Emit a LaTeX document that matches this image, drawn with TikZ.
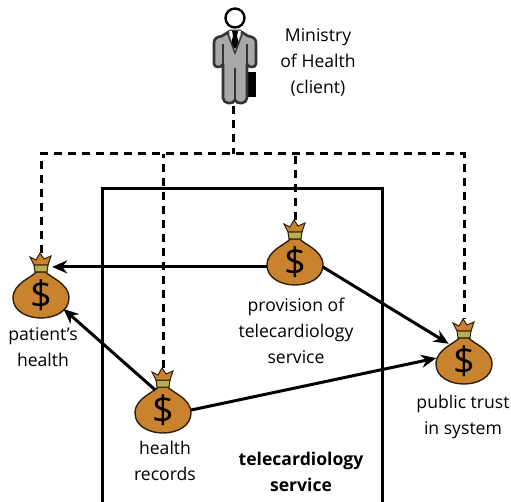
\documentclass[tikz,border=0pt]{standalone}
\usepackage{fontspec}
\setmainfont{Open Sans}
\usetikzlibrary{shapes.geometric,arrows.meta}
\definecolor{bagfill}{HTML}{C9832E}
\definecolor{bagline}{HTML}{2E2008}
\definecolor{bandc}{HTML}{B8B050}
\definecolor{suit}{HTML}{A8A8A8}
\tikzset{
  x=1pt,y=-1pt,
  dashline/.style={line width=3pt,dash pattern=on 8pt off 6pt},
  solidline/.style={line width=3pt},
  arrowline/.style={line width=3pt,-{Stealth[length=15pt,width=13pt]}},
  lbl/.style={align=center,font=\fontsize{17.6}{26}\selectfont,inner sep=0pt},
  bodyanchor/.style={ellipse,minimum width=56pt,minimum height=43pt,inner sep=0pt},
  neckanchor/.style={rectangle,minimum width=22pt,minimum height=14pt,inner sep=0pt},
  bag/.pic={
    \fill[bagfill,draw=bagline,line width=1.4pt]
      (-5,-23) .. controls (-8,-18) and (-28,-12) .. (-28,3)
      .. controls (-28,16) and (-14,23) .. (0,23)
      .. controls (14,23) and (28,16) .. (28,3)
      .. controls (28,-12) and (8,-18) .. (5,-23) -- cycle;
    \fill[bandc,draw=bagline,line width=1pt] (-7,-30) -- (7,-30) -- (6,-23) -- (-6,-23) -- cycle;
    \fill[bagfill,draw=bagline,line width=1pt]
      (-7,-30) -- (-11,-38) -- (-5,-35) -- (-1,-42) -- (3,-36) -- (10,-39) -- (7,-30) -- cycle;
    \node[bodyanchor] (-body) at (0,1) {};
    \node[neckanchor] (-neck) at (0,-27) {};
    \coordinate (-top) at (0,-42);
    \node[inner sep=0pt,font=\fontsize{38}{38}\selectfont] (-sign) at (0,0) {\$};
  },
}
\begin{document}
\begin{tikzpicture}
\useasboundingbox (0,0) rectangle (511,502);
\draw[solidline,miter limit=10] (102,502) -- (102,189) -- (382,189) -- (382,502);
% man
\fill[black] (248,72) rectangle (256,97);
\draw[line width=2.6pt,draw=black!80,fill=suit,line join=round]
  (222,36) .. controls (216,37) and (214,39) .. (214,43)
  -- (214,64) .. controls (214,68) and (222,68) .. (223,64)
  -- (223,98) .. controls (223,104) and (233,105) .. (235,100)
  .. controls (237,105) and (247,104) .. (247,98)
  -- (247,64) .. controls (248,68) and (256,68) .. (256,64)
  -- (256,43) .. controls (256,39) and (254,37) .. (248,36)
  -- (240,31) -- (230,31) -- cycle;
\fill[white] (229,31) -- (241,31) -- (235,52) -- cycle;
\fill[black] (232,31) -- (238,31) -- (237,36) -- (239,44) -- (235,49) -- (231,44) -- (233,36) -- cycle;
\draw[line width=1.4pt,black!80] (227,32) -- (235,53) -- (243,32);
\draw[line width=1.6pt,black!80] (235,68) -- (235,100) (223,44) -- (223,64) (247,44) -- (247,64);
\node[circle,draw=black,fill=white,line width=2.4pt,minimum size=19pt,inner sep=0pt] (head) at (235,18) {};
\coordinate (manfoot) at (233,106);
\coordinate (hub) at (233,154);
% bags
\pic (L) at (41,295) {bag};
\pic (T) at (295,262) {bag};
\pic (B) at (163,410) {bag};
\pic (R) at (464,361) {bag};
% dashed links
\draw[dashline] (manfoot) -- (hub);
\draw[dashline] (L-top) |- (R-top |- hub) -- (R-top);
\draw[dashline] (B-top) -- (B-top |- hub);
\draw[dashline] (T-top) -- (T-top |- hub);
% arrows
\draw[arrowline] (T-body.188) -- (T-body.188 -| L-neck.east);
\draw[arrowline] (T-body.-8) -- (R-body.130);
\draw[arrowline] (B-body.110) -- (L-body.-30);
\draw[arrowline] (B-body.2) -- (R-body.172);
% labels
\node[lbl] (mlabel) at (318,62) {Ministry\\of Health\\(client)};
\node[lbl] (Tlabel) at (296,331) {provision of\\telecardiology\\service};
\node[lbl] (Llabel) at (43,347) {patient’s\\health};
\node[lbl] (Blabel) at (165,461) {health\\records};
\node[lbl] (Rlabel) at (463,417) {public trust\\in system};
\node[lbl,font=\fontsize{17.6}{26}\selectfont\bfseries] (service) at (301,472) {telecardiology\\service};
\end{tikzpicture}
\end{document}
